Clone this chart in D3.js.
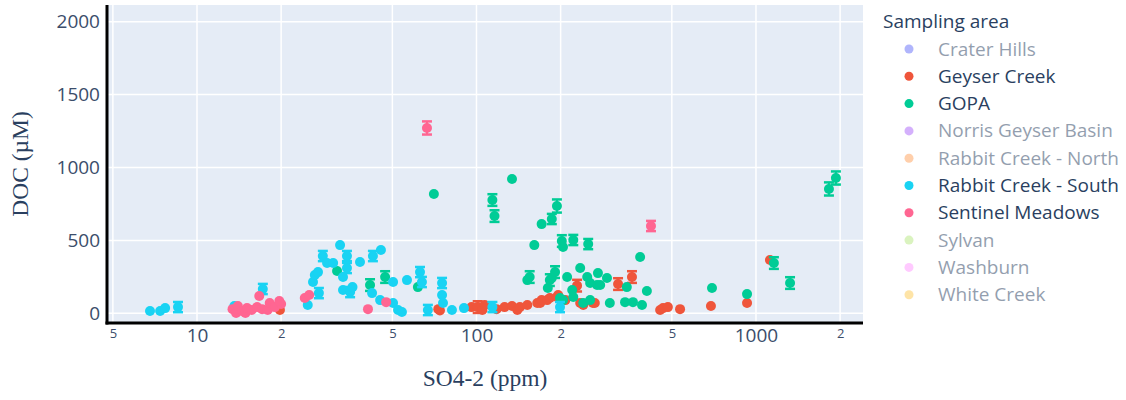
<!DOCTYPE html>
<html>
<head>
<meta charset="utf-8">
<script src="https://cdn.jsdelivr.net/npm/d3@7"></script>
<style>
  body { margin: 0; background: #fff; }
  text { font-family: "Open Sans", sans-serif; }
</style>
</head>
<body>
<svg id="chart" width="1126" height="400"></svg>
<script>
// sampling areas in legend order, hidden ones are legend-only
const areas = ["Crater Hills", "Geyser Creek", "GOPA", "Norris Geyser Basin", "Rabbit Creek - North",
  "Rabbit Creek - South", "Sentinel Meadows", "Sylvan", "Washburn", "White Creek"];
const areaColors = ["#636efa", "#EF553B", "#00cc96", "#ab63fa", "#FFA15A",
  "#19d3f3", "#FF6692", "#B6E880", "#FF97FF", "#FECB52"];
const shown = ["Geyser Creek", "GOPA", "Rabbit Creek - South", "Sentinel Meadows"];

// [SO4-2 ppm, DOC uM, error]
const geyserCreek = [
  [19.8, 23, 0], [73, 29, 0], [74, 20, 0], [96, 43, 0], [101, 43, 40], [105, 23, 0], [107, 57, 0],
  [118, 29, 0], [126, 43, 0], [134, 50, 0], [140, 23, 0], [143, 43, 0], [152, 57, 0], [165, 71, 0],
  [169, 71, 0], [171, 91, 0], [179, 91, 0], [183, 105, 0], [194, 112, 0], [196, 126, 0], [208, 91, 0],
  [229, 190, 40], [235, 71, 0], [241, 57, 0], [261, 71, 0], [265, 71, 0], [321, 201, 40], [360, 249, 40],
  [454, 23, 0], [465, 36, 0], [484, 43, 0], [535, 29, 0], [690, 50, 0], [929, 71, 0], [1122, 366, 0]
];
const gopa = [
  [31.7, 290, 0], [41.6, 194, 40], [47.1, 249, 40], [61.7, 180, 0], [70.4, 818, 0], [114, 777, 40],
  [116, 667, 40], [134, 921, 0], [152, 228, 0], [155, 249, 40], [161, 468, 0], [171, 612, 0],
  [180, 174, 0], [183, 228, 40], [186, 242, 0], [186, 647, 35], [191, 283, 40], [194, 736, 45],
  [199, 105, 0], [202, 496, 40], [204, 455, 0], [204, 91, 0], [211, 249, 0], [220, 160, 0],
  [222, 503, 35], [222, 112, 0], [235, 311, 0], [241, 71, 0], [249, 249, 0], [251, 475, 35],
  [255, 208, 0], [255, 91, 0], [270, 194, 0], [272, 276, 0], [277, 194, 0], [293, 242, 0],
  [300, 71, 0], [340, 77, 0], [345, 180, 0], [363, 77, 0], [385, 386, 0], [391, 57, 0], [407, 153, 0],
  [696, 174, 0], [929, 132, 0], [1159, 345, 40], [1324, 208, 40], [1824, 853, 45], [1932, 928, 45]
];
const rabbitSouth = [
  [6.79, 16, 0], [7.38, 16, 0], [7.69, 36, 0], [8.55, 43, 35], [13.6, 50, 0], [17.2, 167, 35],
  [24.9, 57, 0], [26.0, 215, 0], [26.4, 263, 0], [27.1, 283, 0], [27.3, 139, 35], [28.2, 393, 35],
  [29.2, 345, 0], [30.7, 345, 0], [32.5, 468, 0], [33.3, 249, 0], [33.3, 160, 0], [34.4, 393, 35],
  [34.4, 311, 35], [35.3, 146, 35], [36.0, 180, 0], [38.3, 352, 0], [42.3, 139, 0], [42.6, 393, 35],
  [45.5, 434, 0], [45.2, 91, 0], [50.3, 215, 0], [50.3, 71, 0], [52.4, 23, 0], [54.1, 9, 0],
  [56.4, 228, 0], [62.8, 283, 35], [63.8, 215, 35], [67.0, 23, 35], [75.3, 208, 35], [75.3, 126, 0],
  [75.9, 71, 0], [81.7, 23, 0], [90.2, 36, 0], [114, 43, 35], [199, 43, 35]
];
const sentinelMeadows = [
  [13.4, 29, 0], [13.8, 2, 0], [14.0, 50, 0], [14.5, 16, 0], [14.9, 2, 0], [15.1, 36, 0], [15.7, 23, 0],
  [16.4, 43, 0], [17.1, 29, 0], [17.9, 23, 0], [16.7, 119, 0], [18.2, 71, 0], [19.0, 43, 0],
  [20.0, 64, 0], [19.7, 84, 0], [24.3, 105, 0], [25.2, 126, 0], [40.9, 29, 0], [47.5, 77, 0],
  [66.5, 1271, 45], [421, 599, 35]
];
const seriesData = {
  "Geyser Creek": geyserCreek,
  "GOPA": gopa,
  "Rabbit Creek - South": rabbitSouth,
  "Sentinel Meadows": sentinelMeadows
};

const yTicks = [0, 500, 1000, 1500, 2000];
const xMajor = [10, 100, 1000];
const xMinor = [5, 20, 50, 200, 500, 2000];

const svg = d3.select("#chart");
const plotL = 107, plotR = 863, plotT = 5, plotB = 323;

var x = d3.scaleLog().domain([4.764, 2415]).range([plotL, plotR]);
var y = d3.scaleLinear().domain([-66, 2114]).range([plotB, plotT]);
var color = d3.scaleOrdinal().domain(areas).range(areaColors);

// background
svg.append("rect")
  .attr("x", plotL).attr("y", plotT)
  .attr("width", plotR - plotL).attr("height", plotB - plotT)
  .attr("fill", "#E5ECF6");

// grid
svg.append("g").selectAll("line")
  .data(yTicks).enter().append("line")
  .attr("x1", plotL).attr("x2", plotR)
  .attr("y1", d => y(d)).attr("y2", d => y(d))
  .attr("stroke", "#fff").attr("stroke-width", 1.5);
svg.append("g").selectAll("line")
  .data(xMajor.concat(xMinor)).enter().append("line")
  .attr("x1", d => x(d)).attr("x2", d => x(d))
  .attr("y1", plotT).attr("y2", plotB)
  .attr("stroke", "#fff").attr("stroke-width", 1.5);

// y axis labels
var yAxis = svg.append("g")
  .attr("transform", "translate(" + plotL + ",0)")
  .call(d3.axisLeft(y).tickValues(yTicks).tickSize(0).tickPadding(7).tickFormat(d3.format("d")));
yAxis.select(".domain").remove();
yAxis.selectAll("text")
  .style("font-family", "Open Sans").style("font-size", "19px").attr("fill", "#3b4d6b");

// x axis labels
var xAxis = svg.append("g")
  .attr("transform", "translate(0," + plotB + ")")
  .call(d3.axisBottom(x).tickValues(xMajor).tickSize(0).tickPadding(5).tickFormat(d3.format("d")));
xAxis.select(".domain").remove();
xAxis.selectAll("text")
  .style("font-family", "Open Sans").style("font-size", "19px").attr("fill", "#3b4d6b");

var xAxisMinor = svg.append("g")
  .attr("transform", "translate(0," + plotB + ")")
  .call(d3.axisBottom(x).tickValues(xMinor).tickSize(0).tickPadding(6)
    .tickFormat(d => String(d).charAt(0)));
xAxisMinor.select(".domain").remove();
xAxisMinor.selectAll("text")
  .style("font-family", "Open Sans").style("font-size", "13px").attr("fill", "#3b4d6b");

// traces in legend order so later ones sit on top
const plot = svg.append("g");
shown.forEach(function(name) {
  var g = plot.append("g");
  var c = color(name);
  var pts = seriesData[name];
  var bars = g.selectAll(".err")
    .data(pts.filter(d => d[2] > 0))
    .enter().append("g");
  bars.append("line")
    .attr("x1", d => x(d[0])).attr("x2", d => x(d[0]))
    .attr("y1", d => y(d[1] - d[2])).attr("y2", d => y(d[1] + d[2]))
    .attr("stroke", c).attr("stroke-width", 2);
  [-1, 1].forEach(function(s) {
    bars.append("line")
      .attr("x1", d => x(d[0]) - 5).attr("x2", d => x(d[0]) + 5)
      .attr("y1", d => y(d[1] + s * d[2])).attr("y2", d => y(d[1] + s * d[2]))
      .attr("stroke", c).attr("stroke-width", 2.5);
  });
  g.selectAll("circle")
    .data(pts).enter().append("circle")
    .attr("cx", d => x(d[0])).attr("cy", d => y(d[1]))
    .attr("r", 5)
    .attr("fill", c);
});

// axis lines
svg.append("line")
  .attr("x1", plotL).attr("x2", plotL).attr("y1", plotT).attr("y2", plotB + 1.5)
  .attr("stroke", "#000").attr("stroke-width", 3);
svg.append("line")
  .attr("x1", plotL - 1.5).attr("x2", plotR).attr("y1", plotB).attr("y2", plotB)
  .attr("stroke", "#000").attr("stroke-width", 3);

// axis titles
svg.append("text")
  .attr("x", (plotL + plotR) / 2).attr("y", 386)
  .attr("text-anchor", "middle")
  .style("font-family", "Liberation Serif").style("font-size", "23.5px")
  .attr("fill", "#2a3f5f")
  .text("SO4-2 (ppm)");
svg.append("text")
  .attr("transform", "translate(28," + (plotT + plotB) / 2 + ")rotate(-90)")
  .attr("text-anchor", "middle")
  .style("font-family", "Liberation Serif").style("font-size", "23.5px")
  .attr("fill", "#2a3f5f")
  .text("DOC (µM)");

// legend
var legend = svg.append("g");
legend.append("text")
  .attr("x", 883).attr("y", 28)
  .style("font-size", "19px").attr("fill", "#2a3f5f")
  .text("Sampling area");
var item = legend.selectAll(".item")
  .data(areas).enter().append("g")
  .attr("transform", (d, i) => "translate(0," + (49 + i * 27.3) + ")")
  .attr("opacity", d => shown.includes(d) ? 1 : 0.5);
item.append("circle")
  .attr("cx", 909).attr("cy", 0).attr("r", 4.5)
  .attr("fill", d => color(d));
item.append("text")
  .attr("x", 938).attr("y", 6.5)
  .style("font-size", "19px").attr("fill", "#2a3f5f")
  .text(d => d);
</script>
</body>
</html>
